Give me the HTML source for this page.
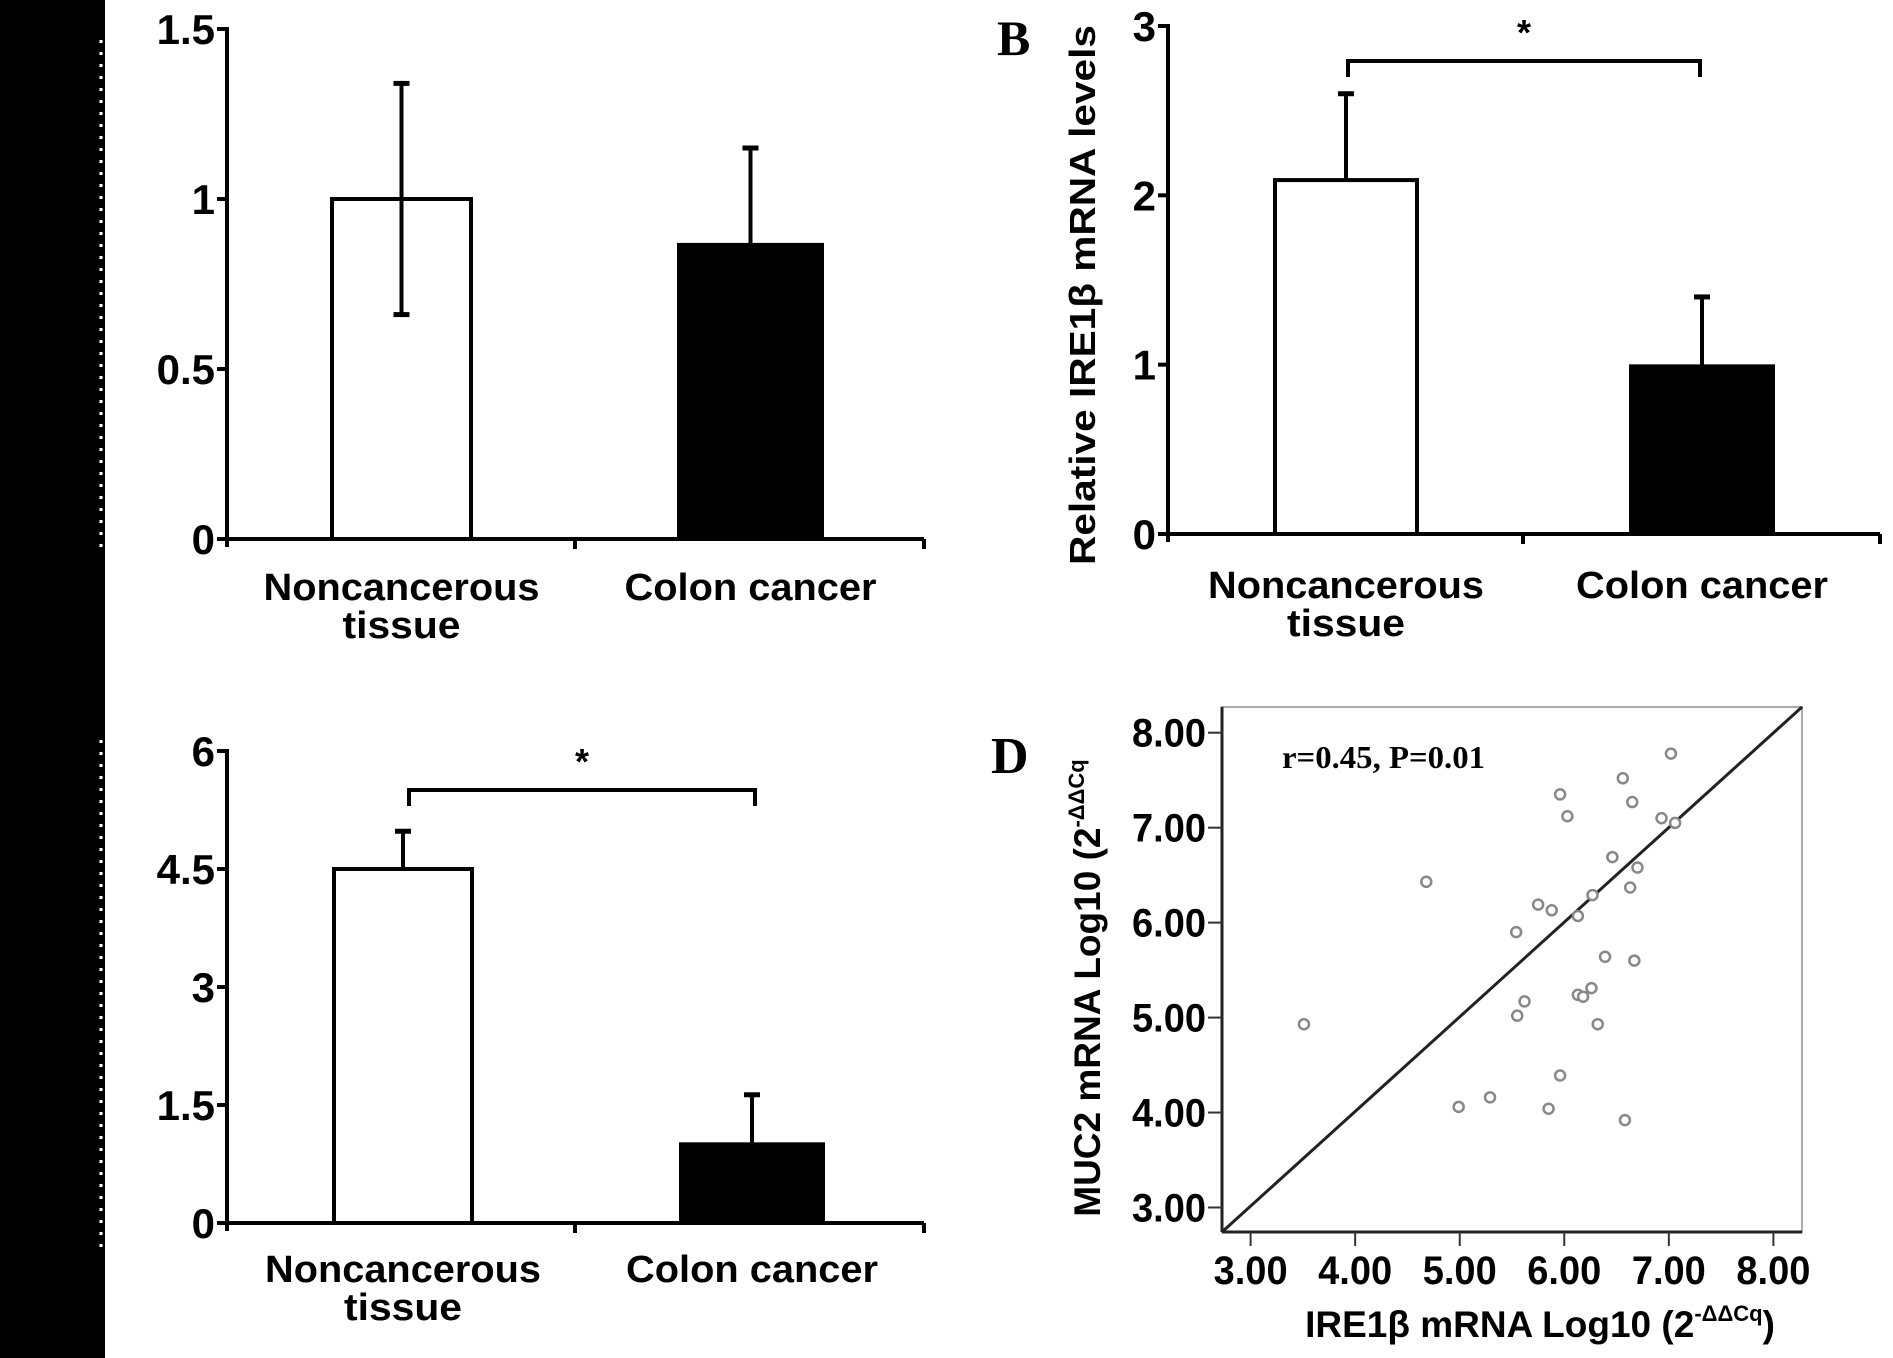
<!DOCTYPE html>
<html><head><meta charset="utf-8"><style>
html,body{margin:0;padding:0;background:#fff;}
svg{display:block}
text{font-family:"Liberation Sans",Arial,sans-serif;font-weight:bold;fill:#000}
.serif{font-family:"Liberation Serif","Times New Roman",serif}
</style></head><body>
<svg id="fig" width="1893" height="1358" viewBox="0 0 1893 1358" xmlns="http://www.w3.org/2000/svg">
<rect x="0" y="0" width="1893" height="1358" fill="#fff"/>
<rect x="0" y="0" width="105" height="1358" fill="#000"/>
<line x1="101" y1="40" x2="101" y2="550" stroke="#fff" stroke-width="3" stroke-dasharray="3 9"/>
<line x1="101" y1="740" x2="101" y2="1255" stroke="#fff" stroke-width="3" stroke-dasharray="3 9"/>
<g id="gA"></g>
<g id="gB"></g>
<g id="gC"></g>
<g id="gD"></g>
</svg>
<script>
const categories = ["Noncancerous", "Colon cancer"];
const aMean = [1.0, 0.865];
const aErrHigh = [1.34, 1.15];
const aErrLow = [0.66, 0.865];
const aTicks = ["0", "0.5", "1", "1.5"];
const aTickVals = [0, 0.5, 1, 1.5];
const bMean = [2.09, 0.99];
const bErrHigh = [2.6, 1.4];
const bErrLow = [2.09, 0.99];
const bTicks = ["0", "1", "2", "3"];
const bTickVals = [0, 1, 2, 3];
const cMean = [4.5, 1.0];
const cErrHigh = [4.98, 1.63];
const cErrLow = [4.5, 1.0];
const cTicks = ["0", "1.5", "3", "4.5", "6"];
const cTickVals = [0, 1.5, 3, 4.5, 6];
const dX = [7.02,6.56,5.96,6.65,6.03,6.93,7.06,6.46,6.70,4.68,6.63,6.27,5.75,5.88,6.13,5.54,6.39,6.67,6.26,6.13,6.18,5.62,5.55,6.32,3.51,5.96,5.29,4.99,5.85,6.58];
const dY = [7.78,7.52,7.35,7.27,7.12,7.10,7.05,6.69,6.58,6.43,6.37,6.29,6.19,6.13,6.07,5.90,5.64,5.60,5.31,5.24,5.22,5.17,5.02,4.93,4.93,4.39,4.16,4.06,4.04,3.92];
const dTicks = ["3.00","4.00","5.00","6.00","7.00","8.00"];
const dTickVals = [3,4,5,6,7,8];

const NS = "http://www.w3.org/2000/svg";
function mk(parent, tag, attrs, txt){
  const e = document.createElementNS(NS, tag);
  for (const k in attrs) e.setAttribute(k, attrs[k]);
  if (txt !== undefined) e.textContent = txt;
  parent.appendChild(e);
  return e;
}

function barPanel(g, cfg, mean, hi, lo, ticks, tickVals){
  const yS = v => cfg.y0 - (v - 0) / cfg.max * (cfg.y0 - cfg.yTop);
  const ya = mk(g, "line", {x1:cfg.ax, y1:yS(cfg.max)-2, x2:cfg.ax, y2:cfg.y0+8, stroke:"#000","stroke-width":4});
  
  
  const xa = mk(g, "line", {x1:cfg.ax-10, y1:cfg.y0, x2:cfg.xEnd, y2:cfg.y0, stroke:"#000","stroke-width":4});
  
  
  [cfg.mid, cfg.xEnd].forEach(x => {
    const t = mk(g, "line", {x1:x, y1:cfg.y0, x2:x, y2:cfg.y0+10, stroke:"#000","stroke-width":4});
    
    
  });
  ticks.forEach((lab, i) => {
    const y = yS(tickVals[i]);
    const t = mk(g, "line", {x1:cfg.ax-10, y1:y, x2:cfg.ax, y2:y, stroke:"#000","stroke-width":4});
    
    
    const tl = mk(g, "text", {x:cfg.ax-12, y:y+15, "font-size":42, "text-anchor":"end"}, lab);
    
    
  });
  mean.forEach((m, i) => {
    const x0 = cfg.bars[i][0], x1 = cfg.bars[i][1], cx = (x0 + x1) / 2;
    const r = mk(g, "rect", {x:x0, y:yS(m), width:x1-x0, height:cfg.y0-yS(m), fill:i===0?"#fff":"#000", stroke:"#000","stroke-width":4});
    
    
    const e = mk(g, "line", {x1:cx, y1:yS(hi[i]), x2:cx, y2:yS(lo[i]), stroke:"#000","stroke-width":4});
    
    
    const c1 = mk(g, "line", {x1:cx-8, y1:yS(hi[i]), x2:cx+8, y2:yS(hi[i]), stroke:"#000","stroke-width":5});
    
    
    if (lo[i] < m) {
      const c2 = mk(g, "line", {x1:cx-8, y1:yS(lo[i]), x2:cx+8, y2:yS(lo[i]), stroke:"#000","stroke-width":5});
      
      
    }
  });
  const c0 = (cfg.bars[0][0] + cfg.bars[0][1]) / 2, c1x = (cfg.bars[1][0] + cfg.bars[1][1]) / 2;
  const l1 = mk(g, "text", {x:c0, y:cfg.labY, "font-size":38, "text-anchor":"middle", textLength:276, lengthAdjust:"spacingAndGlyphs"}, categories[0]);
  
  
  const l2 = mk(g, "text", {x:c0, y:cfg.labY+38, "font-size":38, "text-anchor":"middle", textLength:118, lengthAdjust:"spacingAndGlyphs"}, "tissue");
  
  
  const l3 = mk(g, "text", {x:c1x, y:cfg.labY, "font-size":38, "text-anchor":"middle", textLength:252, lengthAdjust:"spacingAndGlyphs"}, categories[1]);
  
  
  if (cfg.bracketY) {
    const p = mk(g, "path", {d:`M${cfg.brX0},${cfg.bracketY+16} L${cfg.brX0},${cfg.bracketY} L${cfg.brX1},${cfg.bracketY} L${cfg.brX1},${cfg.bracketY+16}`, fill:"none", stroke:"#000","stroke-width":4});
    
    
    const s = mk(g, "text", {x:(cfg.brX0+cfg.brX1)/2, y:cfg.bracketY-16, "font-size":36, "text-anchor":"middle", fill:"#333"}, "*");
    
    
  }
}

barPanel(document.getElementById("gA"), {ax:227, y0:539, yTop:29, max:1.5, xEnd:924, mid:575, bars:[[332,471],[679,822]], labY:600}, aMean, aErrHigh, aErrLow, aTicks, aTickVals);
barPanel(document.getElementById("gB"), {ax:1168, y0:534, yTop:26, max:3, xEnd:1880, mid:1523, bars:[[1275,1417],[1631,1773]], labY:598, bracketY:61, brX0:1348, brX1:1700}, bMean, bErrHigh, bErrLow, bTicks, bTickVals);
barPanel(document.getElementById("gC"), {ax:227, y0:1223, yTop:751, max:6, xEnd:924, mid:575, bars:[[334,472],[681,823]], labY:1282, bracketY:790, brX0:409, brX1:755}, cMean, cErrHigh, cErrLow, cTicks, cTickVals);

(function(){
  const g = document.getElementById("gB");
  const b = mk(g, "text", {x:997, y:55, "font-size":50, class:"serif"}, "B");
  
  
  const yt = mk(g, "text", {x:0, y:0, "font-size":36, "text-anchor":"middle", transform:"translate(1095,295) rotate(-90)", textLength:540, lengthAdjust:"spacingAndGlyphs"}, "Relative IRE1β  mRNA levels");
  
  
})();

(function(){
  const g = document.getElementById("gD");
  const L = 1222, R = 1802, T = 707, B = 1232;
  const xS = v => 1250.6 + (v - 3) * 104.56;
  const yS = v => 1207.5 - (v - 3) * 94.96;
  const box = mk(g, "rect", {x:L, y:T, width:R-L, height:B-T, fill:"#fff", stroke:"#aaa","stroke-width":2});
  
  
  const ax1 = mk(g, "line", {x1:L, y1:T, x2:L, y2:B, stroke:"#222","stroke-width":3});
  
  
  const ax2 = mk(g, "line", {x1:L, y1:B, x2:R, y2:B, stroke:"#222","stroke-width":3});
  
  
  dTicks.forEach((lab, i) => {
    const v = dTickVals[i];
    const ty = mk(g, "line", {x1:L-14, y1:yS(v), x2:L, y2:yS(v), stroke:"#333","stroke-width":2});
    
    
    const ly = mk(g, "text", {x:L-16, y:yS(v)+14, "font-size":40, "text-anchor":"end", textLength:74, lengthAdjust:"spacingAndGlyphs"}, lab);
    
    
    const tx = mk(g, "line", {x1:xS(v), y1:B, x2:xS(v), y2:B+14, stroke:"#333","stroke-width":2});
    
    
    const lx = mk(g, "text", {x:xS(v), y:1284, "font-size":40, "text-anchor":"middle", textLength:74, lengthAdjust:"spacingAndGlyphs"}, lab);
    
    
  });
  const ln = mk(g, "line", {x1:L, y1:B, x2:R, y2:T, stroke:"#222","stroke-width":3});
  
  
  dX.forEach((x, i) => {
    const c = mk(g, "circle", {cx:xS(x), cy:yS(dY[i]), r:5, fill:"#fff", stroke:"#888","stroke-width":2.5});
    
    
  });
  const d = mk(g, "text", {x:991, y:773, "font-size":52, class:"serif"}, "D");
  
  
  const st = mk(g, "text", {x:1282, y:768, "font-size":32, class:"serif", textLength:203, lengthAdjust:"spacingAndGlyphs"}, "r=0.45, P=0.01");
  
  
  const xt = mk(g, "text", {x:1540, y:1337, "font-size":37, "text-anchor":"middle"});
  
  
  xt.innerHTML = 'IRE1β  mRNA Log10 (2<tspan font-size="22" dy="-16">-ΔΔCq</tspan><tspan dy="16">)</tspan>';
  const yt = mk(g, "text", {x:0, y:0, "font-size":37, "text-anchor":"middle", transform:"translate(1100,988) rotate(-90)"});
  
  
  yt.innerHTML = 'MUC2 mRNA Log10  (2<tspan font-size="22" dy="-16">-ΔΔCq</tspan>';
})();
</script>
</body></html>
